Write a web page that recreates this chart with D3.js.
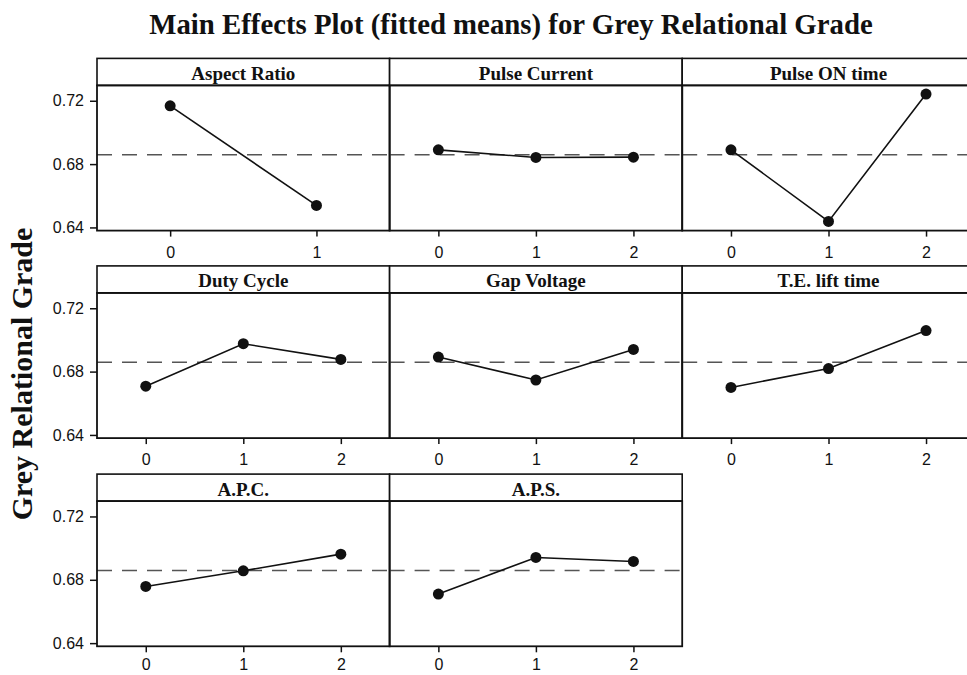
<!DOCTYPE html>
<html>
<head>
<meta charset="utf-8">
<script src="https://cdn.jsdelivr.net/npm/d3@7"></script>
<style>
  body { margin: 0; background: #fff; }
  svg { display: block; }
</style>
</head>
<body>
<div id="chart"></div>
<script>
// factors in panel order
var factors = ["Aspect Ratio", "Pulse Current", "Pulse ON time",
               "Duty Cycle", "Gap Voltage", "T.E. lift time",
               "A.P.C.", "A.P.S."];

// fitted means per factor level
var aspectRatio  = [0.7168, 0.6539];
var pulseCurrent = [0.6890, 0.6842, 0.6844];
var pulseOnTime  = [0.6890, 0.6438, 0.7242];
var dutyCycle    = [0.6708, 0.6976, 0.6877];
var gapVoltage   = [0.6892, 0.6747, 0.6940];
var teLiftTime   = [0.6700, 0.6819, 0.7059];
var apc          = [0.6758, 0.6857, 0.6962];
var aps          = [0.6710, 0.6941, 0.6916];

var means = [aspectRatio, pulseCurrent, pulseOnTime, dutyCycle,
             gapVoltage, teLiftTime, apc, aps];

var grandMean = 0.6859;
var yTicks = [0.64, 0.68, 0.72];

var width = 967, height = 675;
var left = 97, colW = 292.6;
var rowTop = [58.4, 265.9, 474.1];
var stripH = 27, plotH = 145.2;

var serif = "'Liberation Serif', 'Times New Roman', serif";
var sans = "'Liberation Sans', Arial, sans-serif";

var svg = d3.select("#chart").append("svg")
  .attr("width", width)
  .attr("height", height);

svg.append("text")
  .attr("x", 511)
  .attr("y", 34)
  .attr("text-anchor", "middle")
  .style("font-family", serif)
  .style("font-weight", "bold")
  .style("font-size", "28.8px")
  .style("fill", "#111")
  .text("Main Effects Plot (fitted means) for Grey Relational Grade");

svg.append("text")
  .attr("transform", "translate(32,374) rotate(-90)")
  .attr("text-anchor", "middle")
  .style("font-family", serif)
  .style("font-weight", "bold")
  .style("font-size", "30px")
  .style("fill", "#111")
  .text("Grey Relational Grade");

var y = d3.scaleLinear().domain([0.638, 0.7297]).range([plotH, 0]);

var line = d3.line();

function styleAxis(a) {
  a.select(".domain").remove();
  a.selectAll(".tick line").attr("stroke", "#111").attr("stroke-width", 1.5);
  a.selectAll(".tick text")
    .style("font-family", sans)
    .style("font-size", "16px")
    .style("fill", "#111");
}

factors.forEach(function(name, i) {
  var row = Math.floor(i / 3), col = i % 3;
  var vals = means[i];
  var levels = vals.map(function(d, j) { return String(j); });

  var x = d3.scalePoint().domain(levels).range([0, colW]).padding(0.5);

  var g = svg.append("g")
    .attr("transform", "translate(" + (left + col * colW) + "," + rowTop[row] + ")");

  // strip
  g.append("rect")
    .attr("width", colW).attr("height", stripH)
    .attr("fill", "#fff").attr("stroke", "#111").attr("stroke-width", 1.6);
  g.append("text")
    .attr("x", colW / 2).attr("y", stripH - 5.5)
    .attr("text-anchor", "middle")
    .style("font-family", serif)
    .style("font-weight", "bold")
    .style("font-size", "19px")
    .style("fill", "#111")
    .text(name);

  var p = g.append("g").attr("transform", "translate(0," + stripH + ")");

  // reference line at overall mean
  p.append("line")
    .attr("x1", 0).attr("x2", colW)
    .attr("y1", y(grandMean)).attr("y2", y(grandMean))
    .attr("stroke", "#555").attr("stroke-width", 1.5)
    .attr("stroke-dasharray", "15,10");

  var xa = p.append("g")
    .attr("transform", "translate(0," + plotH + ")")
    .call(d3.axisBottom(x).tickSize(6).tickPadding(row === 2 ? 6 : 10));
  styleAxis(xa);

  if (col === 0) {
    var ya = p.append("g")
      .call(d3.axisLeft(y).tickValues(yTicks).tickFormat(d3.format(".2f")).tickSize(7).tickPadding(6));
    styleAxis(ya);
  }

  var pts = vals.map(function(d, j) { return [x(levels[j]), y(d)]; });

  p.append("path")
    .attr("d", line(pts))
    .attr("fill", "none").attr("stroke", "#111").attr("stroke-width", 1.6);

  p.selectAll("circle")
    .data(vals)
    .enter().append("circle")
    .attr("cx", function(d, j) { return x(levels[j]); })
    .attr("cy", function(d) { return y(d); })
    .attr("r", 5.5)
    .attr("fill", "#111");

  p.append("rect")
    .attr("width", colW).attr("height", plotH)
    .attr("fill", "none").attr("stroke", "#111").attr("stroke-width", 1.8);
});
</script>
</body>
</html>
